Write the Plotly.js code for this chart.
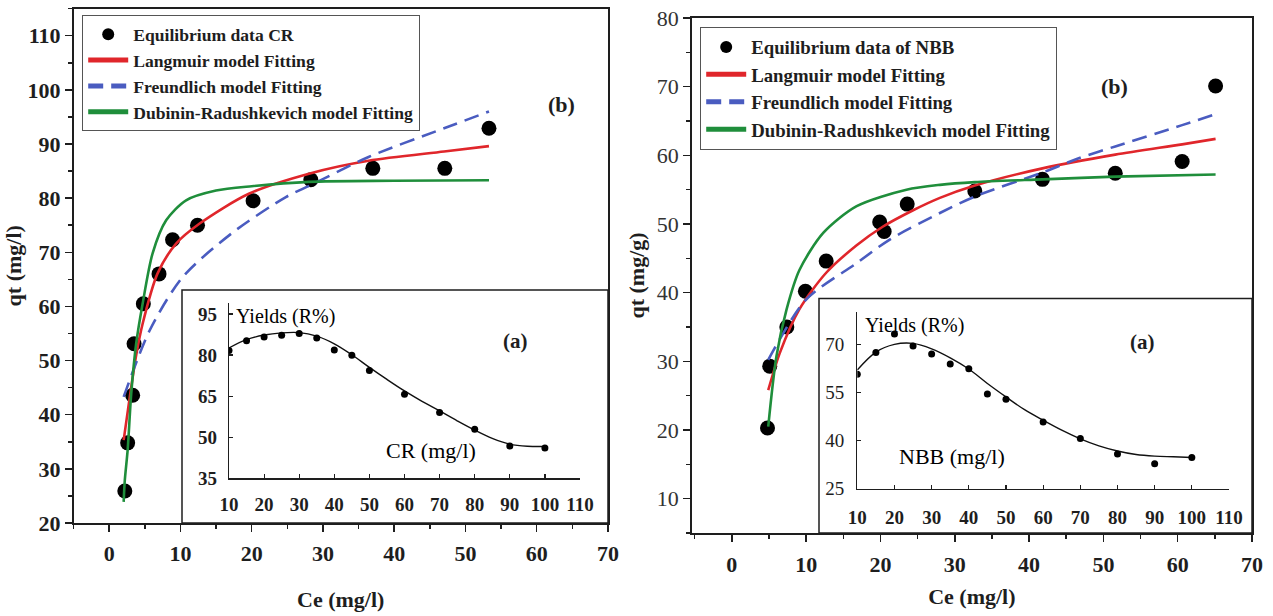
<!DOCTYPE html>
<html><head><meta charset="utf-8">
<script src="https://cdn.plot.ly/plotly-3.0.1.min.js"></script>
<style>html,body{margin:0;padding:0;background:#fff}#chart{width:1273px;height:616px}</style>
</head><body><div id="chart"></div>
<script>
// ---- Congo Red (CR) main panel ----
const crCe  = [2.2, 2.6, 3.3, 3.5, 4.8, 7.0, 8.9, 12.4, 20.2, 28.3, 37.0, 47.1, 53.3];
const crQt  = [25.9, 34.8, 43.6, 53.1, 60.5, 66.0, 72.3, 75.0, 79.5, 83.4, 85.5, 85.5, 92.9];
const crLangCe = [2.04, 2.9, 3.8, 4.7, 6.8, 9.4, 12.7, 19.6, 28.3, 36.4, 47.0, 53.3];
const crLangQt = [35.3, 43.3, 51.0, 56.8, 66.1, 71.6, 75.3, 80.8, 84.6, 86.9, 88.6, 89.6];
const crFreuCe = [2.04, 5.7, 10.3, 17.3, 24.8, 28.3, 36.4, 47.0, 53.3];
const crFreuQt = [43.3, 55.6, 65.4, 73.6, 80.2, 82.4, 87.6, 92.9, 96.0];
const crDRCe = [2.04, 2.2, 2.6, 3.1, 3.8, 4.7, 6.1, 8.0, 10.8, 15.0, 20.0, 28.0, 40.0, 53.3];
const crDRQt = [23.9, 27.9, 33.5, 43.9, 53.2, 60.5, 69.8, 75.9, 79.6, 81.4, 82.2, 83.0, 83.2, 83.3];
// ---- CR inset: yield vs initial concentration ----
const crC0 = [10, 15, 20, 25, 30, 35, 40, 45, 50, 60, 70, 80, 90, 100];
const crYield = [81.7, 85.2, 86.6, 87.2, 87.9, 86.2, 81.8, 79.9, 74.4, 65.7, 59.0, 52.9, 46.8, 46.1];
const crFitC0 = [10, 15, 20, 25, 30, 35, 40, 45, 50, 55, 60, 65, 70, 75, 80, 85, 90, 95, 100];
const crFitY  = [82.6, 85.6, 87.3, 88.1, 88.2, 86.9, 84.1, 80.1, 75.5, 71.1, 66.9, 63.1, 59.6, 56.0, 52.6, 49.6, 47.5, 46.7, 46.6];

// ---- NBB main panel ----
const nbCe = [4.8, 5.1, 7.4, 9.9, 12.7, 19.9, 20.5, 23.6, 32.7, 41.8, 51.6, 60.6, 65.1];
const nbQt = [20.3, 29.3, 35.0, 40.2, 44.6, 50.3, 48.9, 52.9, 54.8, 56.5, 57.4, 59.1, 70.1];
const nbLangCe = [4.9, 6.45, 9.1, 12.7, 16.8, 20.3, 24.4, 28.0, 32.7, 41.8, 51.6, 60.6, 65.1];
const nbLangQt = [25.8, 31.2, 37.6, 42.9, 46.9, 49.6, 52.0, 53.8, 55.6, 58.1, 60.1, 61.6, 62.4];
const nbFreuCe = [4.9, 10.0, 16.8, 21.2, 28.0, 32.7, 41.8, 46.5, 51.6, 60.6, 65.1];
const nbFreuQt = [30.2, 39.0, 44.3, 47.7, 51.6, 54.0, 57.5, 59.5, 61.3, 64.4, 66.0];
const nbDRCe = [4.9, 6.0, 7.35, 9.1, 12.3, 16.8, 23.5, 28.0, 32.7, 41.8, 51.6, 65.1];
const nbDRQt = [20.5, 30.7, 37.5, 43.3, 48.7, 52.6, 55.0, 55.7, 56.1, 56.5, 56.9, 57.2];
// ---- NBB inset ----
const nbC0 = [10, 15, 20, 25, 30, 35, 40, 45, 50, 60, 70, 80, 90, 100];
const nbYield = [60.7, 67.5, 73.2, 69.5, 67.0, 63.9, 62.4, 54.5, 52.9, 45.8, 40.6, 35.8, 32.7, 34.7];
const nbFitC0 = [10, 15, 20, 25, 30, 35, 40, 45, 50, 55, 60, 65, 70, 75, 80, 85, 90, 95, 100];
const nbFitY  = [62.0, 67.6, 70.0, 70.3, 68.6, 65.8, 62.3, 57.8, 53.6, 49.6, 46.3, 43.2, 40.5, 38.3, 36.7, 35.6, 35.1, 34.9, 34.7];

const seriesNames = ['Langmuir model Fitting', 'Freundlich model Fitting', 'Dubinin-Radushkevich model Fitting'];

const F = 'Liberation Serif, Times New Roman, serif';
const W = 1273, H = 616;
const px = v => v / W, py = v => 1 - v / H;
const RED = '#e0262b', BLUE = '#4a5cc0', GREEN = '#1f8e3b', INK = '#1e1e1e';

function mainTraces(ce, qt, lc, lq, fc, fq, dc, dq, ptName, xa, ya, lg) {
  return [
    {x: ce, y: qt, type: 'scatter', mode: 'markers', name: ptName, xaxis: xa, yaxis: ya, legend: lg, legendgroup: lg + 'a',
     marker: {color: '#000', size: 15}},
    {x: lc, y: lq, type: 'scatter', mode: 'lines', name: seriesNames[0], xaxis: xa, yaxis: ya, legend: lg, legendgroup: lg + 'b',
     line: {color: RED, width: 2.6, shape: 'spline', smoothing: 0.8}},
    {x: fc, y: fq, type: 'scatter', mode: 'lines', name: seriesNames[1], xaxis: xa, yaxis: ya, legend: lg, legendgroup: lg + 'c',
     line: {color: BLUE, width: 2.6, dash: '15px,8px', shape: 'spline', smoothing: 0.8}},
    {x: dc, y: dq, type: 'scatter', mode: 'lines', name: seriesNames[2], xaxis: xa, yaxis: ya, legend: lg, legendgroup: lg + 'd',
     line: {color: GREEN, width: 2.6, shape: 'spline', smoothing: 0.8}}
  ];
}
function insetTraces(c, y, fc, fy, xa, ya) {
  return [
    {x: fc, y: fy, type: 'scatter', mode: 'lines', xaxis: xa, yaxis: ya, showlegend: false, hoverinfo: 'skip',
     line: {color: '#111', width: 1.4, shape: 'spline', smoothing: 1}},
    {x: c, y: y, type: 'scatter', mode: 'markers', xaxis: xa, yaxis: ya, showlegend: false,
     marker: {color: '#000', size: 7}}
  ];
}

const data = [
  ...mainTraces(crCe, crQt, crLangCe, crLangQt, crFreuCe, crFreuQt, crDRCe, crDRQt, 'Equilibrium data CR', 'x', 'y', 'legend'),
  ...mainTraces(nbCe, nbQt, nbLangCe, nbLangQt, nbFreuCe, nbFreuQt, nbDRCe, nbDRQt, 'Equilibrium data of NBB', 'x2', 'y2', 'legend2'),
  ...insetTraces(crC0, crYield, crFitC0, crFitY, 'x3', 'y3'),
  ...insetTraces(nbC0, nbYield, nbFitC0, nbFitY, 'x4', 'y4')
];

const mainAxis = {showgrid: false, zeroline: false, showline: true, linecolor: INK, linewidth: 1.6, mirror: true,
  ticks: 'outside', tickcolor: INK, tickwidth: 1.5, ticklen: 7,
  minor: {ticks: 'outside', ticklen: 4, tickcolor: INK, tickwidth: 1.5}};
const insetAxis = {showgrid: false, zeroline: false, showline: true, linecolor: INK, linewidth: 1.3, mirror: false,
  ticks: 'inside', tickcolor: INK, tickwidth: 1.2, ticklen: 4,
  tickfont: {family: F, size: 19, weight: 'bold', color: INK}};
const boldFont = s => ({family: F, size: s, weight: 'bold', color: INK});

const layout = {
  width: W, height: 616,
  margin: {l: 0, r: 0, t: 0, b: 0},
  paper_bgcolor: '#fff', plot_bgcolor: 'rgba(0,0,0,0)',
  showlegend: true,
  xaxis: {...mainAxis, domain: [px(73.5), px(608)], anchor: 'y', range: [-5, 70], tick0: 0, dtick: 10,
    minor: {...mainAxis.minor, dtick: 5}, tickfont: boldFont(22), ticklabelstandoff: 3,
    title: {text: 'Ce (mg/l)', font: boldFont(22), standoff: 26}},
  yaxis: {...mainAxis, domain: [py(523), py(8.6)], anchor: 'x', range: [20, 115], tick0: 0, dtick: 10,
    minor: {...mainAxis.minor, dtick: 5}, tickfont: boldFont(22),
    title: {text: 'qt (mg/l)', font: boldFont(22), standoff: 0}},
  xaxis2: {...mainAxis, domain: [px(691.7), px(1252)], anchor: 'y2', range: [-5.4, 70], tick0: 0, dtick: 10,
    minor: {...mainAxis.minor, dtick: 5}, tickfont: boldFont(22), ticklabelstandoff: 4,
    title: {text: 'Ce (mg/l)', font: boldFont(22), standoff: 12}},
  yaxis2: {...mainAxis, domain: [py(533), py(18)], anchor: 'x2', range: [5, 80], tick0: 0, dtick: 10,
    minor: {...mainAxis.minor, dtick: 5}, tickfont: {family: F, size: 22, color: '#333'},
    title: {text: 'qt (mg/g)', font: boldFont(22), standoff: 6}},
  xaxis3: {...insetAxis, domain: [px(229), px(580)], anchor: 'y3', range: [10, 110], dtick: 10, tick0: 10, ticklabelstandoff: 9},
  yaxis3: {...insetAxis, domain: [py(478.3), py(303)], anchor: 'x3', range: [35, 99], tickvals: [35, 50, 65, 80, 95], ticklabelstandoff: 7},
  xaxis4: {...insetAxis, domain: [px(857.3), px(1229)], anchor: 'y4', range: [10, 110], dtick: 10, tick0: 10, ticklabelstandoff: 11},
  yaxis4: {...insetAxis, domain: [py(488.5), py(311.7)], anchor: 'x4', range: [25, 80.2], tickvals: [25, 40, 55, 70], ticklabelstandoff: 8,
    tickfont: {family: F, size: 19, color: INK}},
  legend: {x: px(82), y: py(15), xanchor: 'left', yanchor: 'top', bgcolor: '#fff', bordercolor: '#555', borderwidth: 1.2,
    font: boldFont(17.6), itemwidth: 40, traceorder: 'grouped', tracegroupgap: 0, itemsizing: 'constant'},
  legend2: {x: px(700), y: py(27), xanchor: 'left', yanchor: 'top', bgcolor: '#fff', bordercolor: '#555', borderwidth: 1.2,
    font: boldFont(18.8), itemwidth: 40, traceorder: 'grouped', tracegroupgap: 0, itemsizing: 'constant'},
  shapes: [
    {type: 'rect', xref: 'paper', yref: 'paper', x0: px(182), x1: px(608), y0: py(523), y1: py(290),
     line: {color: INK, width: 1.5}, fillcolor: '#fff', layer: 'below'},
    {type: 'rect', xref: 'paper', yref: 'paper', x0: px(819), x1: px(1252), y0: py(533), y1: py(298.5),
     line: {color: INK, width: 1.5}, fillcolor: '#fff', layer: 'below'}
  ],
  annotations: [
    {text: '(b)', xref: 'paper', yref: 'paper', x: px(561), y: py(90), showarrow: false, font: boldFont(22)},
    {text: '(b)', xref: 'paper', yref: 'paper', x: px(1130), y: py(72), showarrow: false, font: boldFont(22)},
    {text: 'Yields (R%)', xref: 'paper', yref: 'paper', x: px(234), y: py(316), xanchor: 'left', showarrow: false, font: {family: F, size: 20, color: '#000'}},
    {text: '(a)', xref: 'paper', yref: 'paper', x: px(515), y: py(341), showarrow: false, font: boldFont(21)},
    {text: 'CR (mg/l)', xref: 'paper', yref: 'paper', x: px(384), y: py(465), showarrow: false, font: {family: F, size: 22, color: '#000'}},
    {text: 'Yields (R%)', xref: 'paper', yref: 'paper', x: px(863), y: py(325), xanchor: 'left', showarrow: false, font: {family: F, size: 20, color: '#000'}},
    {text: '(a)', xref: 'paper', yref: 'paper', x: px(1157), y: py(342), showarrow: false, font: boldFont(21)},
    {text: 'NBB (mg/l)', xref: 'paper', yref: 'paper', x: px(1007), y: py(471), showarrow: false, font: {family: F, size: 22, color: '#000'}}
  ]
};

Plotly.newPlot('chart', data, layout, {displayModeBar: false, staticPlot: true});
</script>
</body></html>
